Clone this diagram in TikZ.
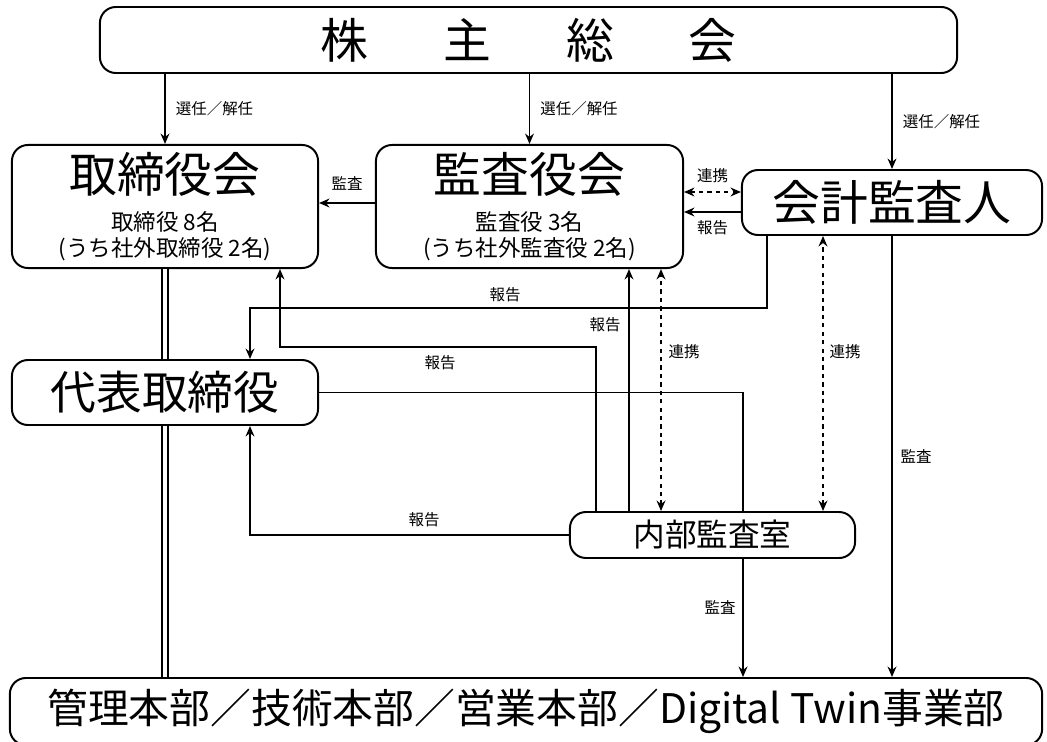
\documentclass[tikz,border=0pt]{standalone}
\usepackage{fontspec}
\setmainfont{Noto Sans CJK JP}
\usetikzlibrary{arrows.meta}

\begin{document}
\begin{tikzpicture}[x=0.025cm, y=-0.025cm,
box/.style={draw=black, fill=white, line width=1.4pt, rounded corners=4mm, inner sep=0pt, align=center},
big/.style={font=\fontsize{34}{40}\selectfont},
lbl/.style={font=\fontsize{11}{12}\selectfont, inner sep=0pt},
arr/.style={line width=1.2pt, -{Stealth[length=2.6mm,width=2.2mm]}},
both/.style={line width=1.2pt, dashed, {Stealth[length=2.6mm,width=2.2mm]}-{Stealth[length=2.6mm,width=2.2mm]}},
plain/.style={line width=1.2pt}
]
\useasboundingbox (0,0) rectangle (1047,742);

% boxes
\node [box, big, minimum width=214.25mm, minimum height=16.5mm] (soukai) at (528.5,40) {株\hspace{18.75mm}主\hspace{18.75mm}総\hspace{18.75mm}会};
\node [box, minimum width=76.5mm, minimum height=30.75mm, font=\fontsize{16}{18.5}\selectfont] (torikai) at (165,206.5)
    {{\fontsize{34}{40}\selectfont 取締役会}\\[8pt] 取締役 8名\\(うち社外取締役 2名)};
\node [box, minimum width=76.75mm, minimum height=30.75mm, font=\fontsize{16}{18.5}\selectfont] (kansakai) at (529.5,206.5)
    {{\fontsize{34}{40}\selectfont 監査役会}\\[8pt] 監査役 3名\\(うち社外監査役 2名)};
\node [box, big, minimum width=75mm, minimum height=16.25mm] (kaikei) at (892,202.5) {会計監査人};
\node [box, minimum width=76.5mm, minimum height=16.25mm, font=\fontsize{32.5}{38}\selectfont] (daihyo) at (165,392.5) {代表取締役};
\node [box, minimum width=71.25mm, minimum height=11.5mm, font=\fontsize{22.5}{26}\selectfont] (naibu) at (712.5,535) {内部監査室};
\node [box, minimum width=258mm, minimum height=16.75mm, font=\fontsize{29}{34}\selectfont] (honbu) at (526,711.5) {管理本部／技術本部／営業本部／Digital Twin事業部};

% election
\draw [arr] (soukai.south -| torikai.north) -- (torikai.north) node [lbl, midway, right=2.5mm] {選任／解任};
\draw [arr] (soukai.south -| kansakai.north) -- (kansakai.north) node [lbl, midway, right=2.5mm] {選任／解任};
\draw [arr] (soukai.south -| kaikei.north) -- (kaikei.north) node [lbl, midway, right=2.5mm] {選任／解任};

% audit and reports
\draw [arr] (kansakai.west |- 0,203) -- (torikai.east |- 0,203) node [lbl, midway, above=3mm] {監査};
\draw [both] (kansakai.east |- 0,192) -- (kaikei.west |- 0,192) node [lbl, midway, above=2mm] {連携};
\draw [arr] (kaikei.west |- 0,212) -- (kansakai.east |- 0,212) node [lbl, midway, below=2mm] {報告};
\draw [arr] (767,0 |- kaikei.south) |- (250,308) -- (daihyo.north -| 250,0);
\node [lbl] (r1) at (505,295) {報告};
\draw [arr] (596,0 |- naibu.north) |- (280,347) -- (torikai.south -| 280,0);
\node [lbl] (r2) at (440,363) {報告};
\draw [arr] (629,0 |- naibu.north) -- (629,0 |- kansakai.south);
\node [lbl] (r3) at (605,325) {報告};
\draw [both] (661,0 |- naibu.north) -- (661,0 |- kansakai.south);
\node [lbl] (c1) at (684,352) {連携};
\draw [both] (823,0 |- naibu.north) -- (823,0 |- kaikei.south);
\node [lbl] (c2) at (845,352) {連携};
\draw [plain] (daihyo.east) -| (743,0 |- naibu.north);
\draw [arr] (naibu.west) -| (daihyo.south -| 250,0);
\node [lbl] (r4) at (424,520) {報告};
\draw [arr] (naibu.south -| 743,0) -- (honbu.north -| 743,0);
\node [lbl] (a1) at (720,607) {監査};
\draw [arr] (kaikei.south) -- (honbu.north -| kaikei.south);
\node [lbl] (a2) at (916,456) {監査};

% board line
\draw [line width=1.1pt, double, double distance=1mm] (torikai.south) -- (daihyo.north);
\draw [line width=1.1pt, double, double distance=1mm] (daihyo.south) -- (honbu.north -| daihyo.south);
\end{tikzpicture}
\end{document}
